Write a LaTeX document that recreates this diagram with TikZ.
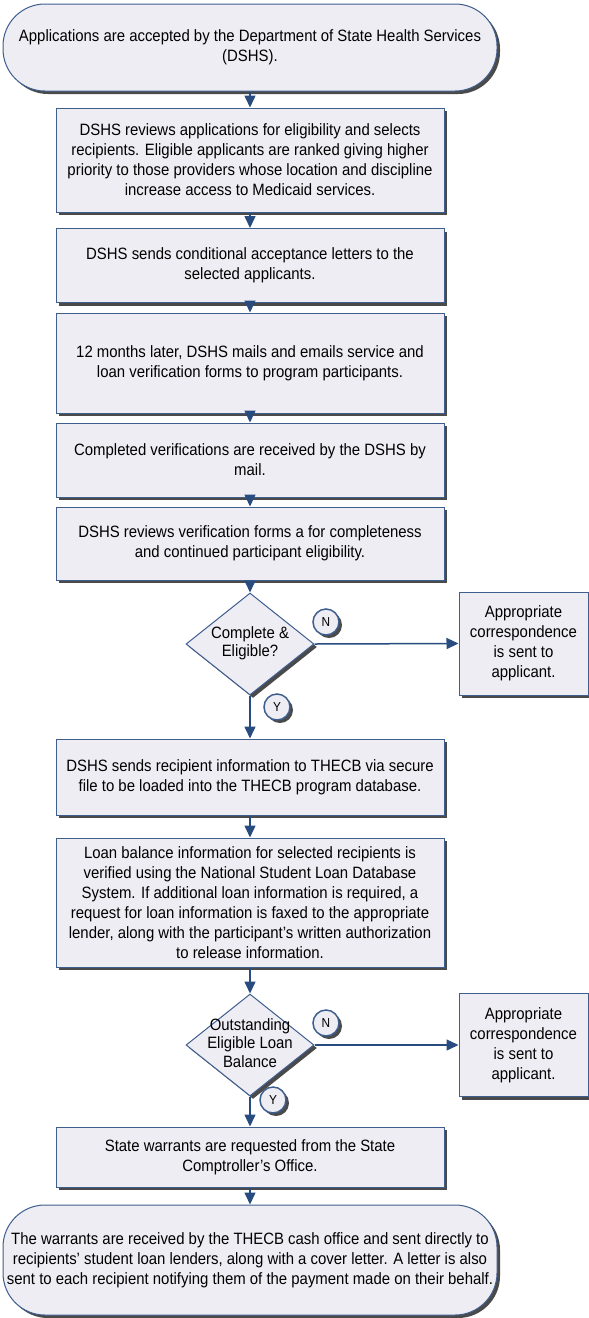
\documentclass[tikz,border=0pt]{standalone}
\usepackage{fontspec}
\setmainfont{Liberation Sans}[FakeStretch=0.91]
\usetikzlibrary{shapes.geometric,shadows,arrows.meta}
\definecolor{boxfill}{HTML}{EEEDF4}
\definecolor{boxline}{HTML}{3E5E8E}
\definecolor{arrowcol}{HTML}{284C80}
\definecolor{shadowcol}{HTML}{4A4A4A}
\begin{document}
\begin{tikzpicture}[x=1pt,y=-1pt,
  shad/.style={general shadow={fill=shadowcol, shadow xshift=3pt, shadow yshift=-3pt}},
  base/.style={draw=boxline, line width=1pt, fill=boxfill, shad, inner sep=0pt},
  txt/.style={font=\fontsize{16.4}{20}\selectfont, align=center},
  procbox/.style={base, txt, rectangle, minimum width=388pt},
  term/.style={base, txt, rectangle, rounded corners=42pt, minimum width=494pt},
  sidebox/.style={base, txt, rectangle, minimum width=129pt, minimum height=103pt},
  dia/.style={base, diamond, minimum width=128pt, minimum height=102pt},
  diatext/.style={font=\fontsize{16.4}{18.5}\selectfont, align=center, inner sep=0pt},
  yn/.style={base, circle, line width=1.5pt, minimum size=26pt, font=\fontsize{13}{13}\selectfont},
  flow/.style={draw=arrowcol, line width=1.5pt, -{Triangle[width=11pt,length=12pt]}}
]
\useasboundingbox (0,0) rectangle (589,1318);

\node[term, minimum height=87pt] (t1) at (250,47.5)
  {Applications are accepted by the Department of State Health Services\\(DSHS).};

\node[procbox, minimum height=104pt] (b1) at (250,160)
  {DSHS reviews applications for eligibility and selects\\
   recipients. Eligible applicants are ranked giving higher\\
   priority to those providers whose location and discipline\\
   increase access to Medicaid services.};

\node[procbox, minimum height=74pt] (b2) at (250,265.5)
  {DSHS sends conditional acceptance letters to the\\selected applicants.};

\node[procbox, minimum height=100pt] (b3) at (250,363)
  {12 months later, DSHS mails and emails service and\\loan verification forms to program participants.};

\node[procbox, minimum height=74pt] (b4) at (250,460)
  {Completed verifications are received by the DSHS by\\mail.};

\node[procbox, minimum height=73pt] (b5) at (250,543.5)
  {DSHS reviews verification forms a for completeness\\and continued participant eligibility.};

\node[dia] (d1) at (250,644) {};
\node[diatext] (d1t) at (250,643) {Complete \&\\Eligible?};

\node[sidebox] (r1) at (523.5,643.5)
  {Appropriate\\correspondence\\is sent to\\applicant.};

\node[yn] (n1) at (326,622) {N};
\node[yn] (y1) at (277,707) {Y};

\node[procbox, minimum height=76pt] (b6) at (250,777)
  {DSHS sends recipient information to THECB via secure\\file to be loaded into the THECB program database.};

\node[procbox, minimum height=129pt] (b7) at (250,902.5)
  {Loan balance information for selected recipients is\\
   verified using the National Student Loan Database\\
   System. If additional loan information is required, a\\
   request for loan information is faxed to the appropriate\\
   lender, along with the participant’s written authorization\\
   to release information.};

\node[dia] (d2) at (250,1045) {};
\node[diatext] (d2t) at (250,1043) {Outstanding\\Eligible Loan\\Balance};

\node[sidebox] (r2) at (523.5,1045)
  {Appropriate\\correspondence\\is sent to\\applicant.};

\node[yn] (n2) at (326,1023) {N};
\node[yn] (y2) at (273,1100) {Y};

\node[procbox, minimum height=60pt] (b8) at (250,1157)
  {State warrants are requested from the State\\Comptroller’s Office.};

\node[term, minimum height=110pt] (t2) at (250,1260)
  {The warrants are received by the THECB cash office and sent directly to\\
   recipients’ student loan lenders, along with a cover letter. A letter is also\\
   sent to each recipient notifying them of the payment made on their behalf.};

\draw[flow] (t1.south) -- (b1.north);
\draw[flow] (b1.south) -- (b2.north);
\draw[flow] (b2.south) -- (b3.north);
\draw[flow] (b3.south) -- (b4.north);
\draw[flow] (b4.south) -- (b5.north);
\draw[flow] (b5.south) -- (d1.north);
\draw[flow] (d1.east) -- (r1.west);
\draw[flow] (d1.south) -- (b6.north);
\draw[flow] (b6.south) -- (b7.north);
\draw[flow] (b7.south) -- (d2.north);
\draw[flow] (d2.east) -- (r2.west);
\draw[flow] (d2.south) -- (b8.north);
\draw[flow] (b8.south) -- (t2.north);
\end{tikzpicture}
\end{document}
